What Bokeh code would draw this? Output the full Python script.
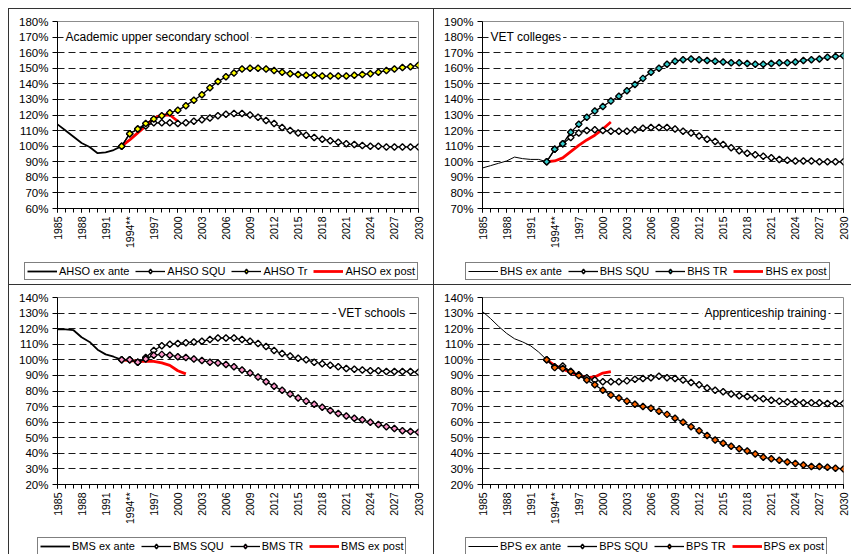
from math import pi
from bokeh.plotting import figure
from bokeh.layouts import column, row
from bokeh.models import (Range1d, FixedTicker, PrintfTickFormatter, Legend,
                          LegendItem, Label)
from bokeh.embed import file_html
from bokeh.resources import INLINE

# ---------------- data ----------------
YEARS_ANTE = list(range(1985, 1994))          # ex ante history
YEARS_PROJ = list(range(1993, 2031))          # scenario projections
YEAR_TICKS = list(range(1985, 2031, 3))
YEAR_MINOR = list(range(1985, 2031))
TICK_LABELS = {1994: "1994**"}

# Academic upper secondary school (AHSO)
AHSO_EX_ANTE = [114, 110, 106, 102, 99.5, 95.5, 96, 97.5, 100]
AHSO_SQU = [100, 108, 111, 113, 115, 115, 115, 114.5, 115, 116, 117, 118, 119.5,
            120.5, 121, 121, 120, 118.5, 116.5, 114.5, 112, 110, 108.5, 107, 105.5,
            104.5, 103.5, 102.5, 101.5, 101, 100.5, 100, 100, 99.5, 99.5, 99.5, 99.5, 99.5]
AHSO_TR = [100, 108, 111, 114.5, 117.5, 119.5, 121.5, 123, 126, 129.5, 133, 137.5,
           141.5, 144.5, 147, 149.5, 150, 150, 149.5, 148.5, 147.5, 146.5, 146, 145.5,
           145.5, 145, 145, 145, 145, 145.5, 146, 146.5, 147.5, 148.5, 149.5, 150.5, 151, 152]
AHSO_POST_YEARS = list(range(1993, 2001))
AHSO_EX_POST = [100, 104, 108.5, 113, 118, 120, 120, 116]

# VET colleges (BHS)
BHS_EX_ANTE = [96, 97.5, 99, 100.5, 103, 102, 101.5, 101.5, 100]
BHS_SQU = [100, 108, 111.5, 115.5, 118.5, 120, 120.5, 120, 119.5, 119.5, 119.5, 120.5,
           121.5, 122, 122, 122, 121, 119.5, 118.5, 116.5, 114.5, 113, 111, 109, 107,
           105.5, 104.5, 103.5, 102.5, 101.5, 101, 100.5, 100.5, 100.5, 100, 100, 100, 100]
BHS_TR = [100, 108, 111.5, 119, 124, 128.5, 132.5, 135.5, 139, 142, 145.5, 149.5, 153.5,
          157.5, 160, 162.5, 164.5, 165.5, 166, 165.5, 165, 164.5, 164, 163.5, 163.5, 163,
          162.5, 162.5, 163, 163.5, 163.5, 164, 165, 165.5, 166, 167, 167.5, 168]
BHS_POST_YEARS = list(range(1993, 2002))
BHS_EX_POST = [100, 100.5, 102.5, 106.5, 110.5, 114, 117, 121, 125.5]

# VET schools (BMS)
BMS_EX_ANTE = [119.5, 119.5, 119, 114.5, 111.5, 106.5, 103.5, 102, 100]
BMS_SQU = [100, 100, 98.5, 101.5, 106, 109, 110, 110.5, 111, 111.5, 112, 113, 114, 114,
           114, 113, 112, 110.5, 108.5, 106, 104, 102.5, 101, 100, 98.5, 97.5, 96.5, 95.5,
           94.5, 94, 93.5, 93, 93, 92.5, 92.5, 92.5, 92.5, 92]
BMS_TR = [100, 100, 98.5, 100.5, 103, 103.5, 103, 102, 101.5, 100.5, 99.5, 98.5, 98, 97,
          95.5, 93.5, 91.5, 89, 86, 83, 80.5, 78, 75.5, 73.5, 71.5, 69.5, 67.5, 65.5, 64,
          62.5, 61.5, 60, 58.5, 57, 56, 54.5, 54, 53.5]
BMS_POST_YEARS = list(range(1993, 2002))
BMS_EX_POST = [100, 99.5, 99, 99, 99, 98, 96.5, 93, 91]

# Apprenticeship training (BPS)
BPS_EX_ANTE = [131, 126.5, 121.5, 117, 113.5, 111.5, 109, 105, 100]
BPS_SQU = [100, 95.5, 96, 92.5, 90.5, 88.5, 87, 86, 86, 86, 86.5, 87.5, 88, 88.5, 89.5,
           88.5, 88, 87, 85.5, 84, 82, 80.5, 79.5, 78, 77, 76.5, 75.5, 75, 74, 73.5, 73,
           73, 72.5, 72.5, 72.5, 72, 72, 72]
BPS_TR = [100, 95, 94.5, 92.5, 90, 87, 84, 80.5, 77.5, 75.5, 73.5, 71.5, 70, 69, 67, 65,
          62.5, 60, 57, 54.5, 51.5, 48.5, 46.5, 44.5, 43, 41.5, 39.5, 37.5, 36.5, 35.5,
          34.5, 33.5, 32.5, 31.5, 31.5, 31, 30.5, 30]
BPS_POST_YEARS = list(range(1993, 2002))
BPS_EX_POST = [100, 96.5, 94, 92, 90, 88.5, 89, 91.5, 92.5]

FONT = "'Liberation Sans', Arial, sans-serif"
NARROW = "'Liberation Sans Narrow', 'Liberation Sans', Arial, sans-serif"
LINE = "1px solid #333"
MK_LW = 1.4


def draw_series(p, ex_ante, ante_w, squ, tr, post_years, ex_post, tr_color,
                marker="square", size=4.6, angle=pi / 4):
    r_ante = p.line(YEARS_ANTE, ex_ante, line_color="black", line_width=ante_w)
    r_post = p.line(post_years, ex_post, line_color="#ff0000", line_width=2.8)
    r_squ_l = p.line(YEARS_PROJ, squ, line_color="black", line_width=1.3)
    r_squ_m = p.scatter(YEARS_PROJ, squ, marker=marker, angle=angle, size=size,
                        fill_color="white", line_color="black", line_width=MK_LW)
    r_tr_l = p.line(YEARS_PROJ, tr, line_color="black", line_width=1.3)
    r_tr_m = p.scatter(YEARS_PROJ, tr, marker=marker, angle=angle, size=size,
                       fill_color=tr_color, line_color="black", line_width=MK_LW)
    return r_ante, [r_squ_l, r_squ_m], [r_tr_l, r_tr_m], r_post


def panel(code, tr_name, ex_ante, ante_w, squ, tr, post_years, ex_post, tr_color,
          ylo, yhi, title, title_x, title_y, title_align,
          canvas_w, leg_h, leg_loc):
    main_h = 240
    p = figure(frame_width=360, frame_height=186,
               min_border_left=48, min_border_right=canvas_w - 48 - 360,
               min_border_top=12, min_border_bottom=main_h - 12 - 186,
               x_range=Range1d(1985, 2030), y_range=Range1d(ylo, yhi),
               output_backend="svg", toolbar_location=None)
    p.styles = {"border-left": LINE, "border-top": LINE}
    p.background_fill_color = "white"
    p.border_fill_color = "white"
    p.outline_line_color = "#8c8c8c"
    p.outline_line_width = 1

    # grid
    p.xgrid.visible = False
    p.ygrid.ticker = FixedTicker(ticks=list(range(ylo + 10, yhi, 10)))
    p.ygrid.grid_line_color = "#1a1a1a"
    p.ygrid.grid_line_dash = "7 4"
    p.ygrid.grid_line_width = 1.1

    # y axis
    ya = p.yaxis[0]
    ya.ticker = FixedTicker(ticks=list(range(ylo, yhi + 1, 10)))
    ya.formatter = PrintfTickFormatter(format="%d%%")
    ya.major_tick_out = 5
    ya.major_tick_in = 0
    ya.minor_tick_out = 0
    ya.minor_tick_in = 0
    ya.major_label_standoff = 4
    ya.axis_line_color = "black"
    ya.major_tick_line_color = "black"
    ya.major_label_text_font = FONT
    ya.major_label_text_font_size = "11.5px"
    ya.major_label_text_color = "black"

    # x axis
    xa = p.xaxis[0]
    xa.ticker = FixedTicker(ticks=YEAR_TICKS, minor_ticks=YEAR_MINOR)
    xa.major_label_overrides = TICK_LABELS
    xa.major_label_orientation = pi / 2
    xa.major_tick_out = 4
    xa.major_tick_in = 0
    xa.minor_tick_out = 4
    xa.minor_tick_in = 0
    xa.major_label_standoff = 4
    xa.axis_line_color = "black"
    xa.major_tick_line_color = "black"
    xa.minor_tick_line_color = "black"
    xa.major_label_text_font = NARROW
    xa.major_label_text_font_size = "10.5px"
    xa.major_label_text_color = "black"

    draw_series(p, ex_ante, ante_w, squ, tr, post_years, ex_post, tr_color)

    lbl = Label(x=title_x, y=title_y, x_units="screen", y_units="data",
                text=title, text_align=title_align, text_baseline="middle",
                text_font=FONT, text_font_size="12px", text_color="black",
                background_fill_color="white", background_fill_alpha=1.0,
                padding=2)
    p.add_layout(lbl)

    # legend strip: its own canvas under the chart; the same series are drawn
    # there but fall outside its (0..1) ranges, so only the legend shows
    q = figure(frame_width=canvas_w, frame_height=leg_h, min_border=0,
               x_range=Range1d(0, 1), y_range=Range1d(0, 1),
               x_axis_type=None, y_axis_type=None,
               output_backend="svg", toolbar_location=None)
    q.styles = {"border-left": LINE}
    q.outline_line_color = None
    q.background_fill_color = "white"
    q.border_fill_color = "white"
    q.xgrid.visible = False
    q.ygrid.visible = False
    l_ante, l_squ, l_tr, l_post = draw_series(q, ex_ante, ante_w, squ, tr,
                                              post_years, ex_post, tr_color,
                                              marker="diamond", size=8, angle=0)

    legend = Legend(items=[
        LegendItem(label=f"{code} ex ante", renderers=[l_ante]),
        LegendItem(label=f"{code} SQU", renderers=l_squ),
        LegendItem(label=f"{code} {tr_name}", renderers=l_tr),
        LegendItem(label=f"{code} ex post", renderers=[l_post]),
    ], location=leg_loc, orientation="horizontal")
    legend.label_text_font = FONT
    legend.label_text_font_size = "11px"
    legend.label_text_color = "black"
    legend.glyph_width = 30
    legend.glyph_height = 12
    legend.label_height = 12
    legend.label_standoff = 2
    legend.spacing = 6
    legend.padding = 2
    legend.margin = 0
    legend.border_line_color = "black"
    legend.border_line_width = 1
    legend.background_fill_color = "white"
    legend.background_fill_alpha = 1.0
    q.add_layout(legend)
    return column(p, q, spacing=0)


c1 = panel("AHSO", "Tr", AHSO_EX_ANTE, 1.8, AHSO_SQU, AHSO_TR, AHSO_POST_YEARS,
           AHSO_EX_POST, "#ffff00", 60, 180, "Academic upper secondary school",
           6, 170, "left", 424, 34, (15, 4))
c2 = panel("BHS", "TR", BHS_EX_ANTE, 1.0, BHS_SQU, BHS_TR, BHS_POST_YEARS,
           BHS_EX_POST, "#33cccc", 70, 190, "VET colleges",
           6, 180, "left", 417, 34, (31, 4))
c3 = panel("BMS", "TR", BMS_EX_ANTE, 1.8, BMS_SQU, BMS_TR, BMS_POST_YEARS,
           BMS_EX_POST, "#ff99cc", 20, 140, "VET schools",
           350, 130, "right", 424, 29, (28, 0))
c4 = panel("BPS", "TR", BPS_EX_ANTE, 1.0, BPS_SQU, BPS_TR, BPS_POST_YEARS,
           BPS_EX_POST, "#ff6600", 20, 140, "Apprenticeship training",
           346, 130, "right", 417, 29, (31, 0))

page = column(row(c1, c2, spacing=0), row(c3, c4, spacing=0), spacing=0)
page.styles = {"margin-left": "8px", "margin-top": "8px"}

open("out.html", "w").write(file_html(page, INLINE))
